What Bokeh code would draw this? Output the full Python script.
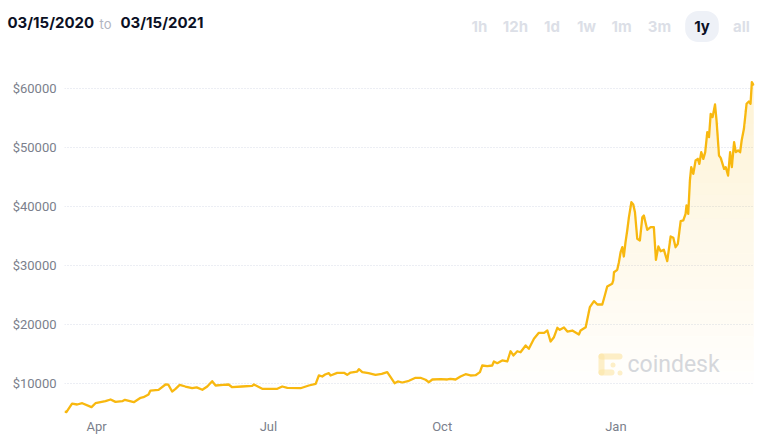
import numpy as np
import pandas as pd
from bokeh.plotting import figure
from bokeh.layouts import column
from bokeh.models import Range1d, FixedTicker, PrintfTickFormatter, Label, BoxAnnotation
from bokeh.embed import file_html
from bokeh.resources import INLINE

# ---------------- data ----------------
start_date = "2020-03-15"
date_from = "03/15/2020"
date_to = "03/15/2021"
# days after start_date
day_offsets = [
    0, 1, 4, 6.7, 9.4, 14.3, 16.4, 21.7, 24.4, 27, 30.6, 32, 36.7, 40.3, 41.8, 44.5, 45.5,
    49.8, 53.5, 55, 57, 58.8, 61, 64, 67.6, 70, 73, 75.6, 78.2, 80, 84, 86.9, 88.8, 94,
    99.4, 100.3, 104.7, 112.7, 115.3, 118, 125, 129.4, 133, 134.7, 136.5, 138, 140, 140.9,
    144.4, 148, 149.7, 151.5, 155, 155.9, 157.7, 161, 164.7, 168, 170.9, 172.7, 174.8,
    176.5, 178.9, 182.4, 185.9, 188.5, 191.2, 193, 194.8, 199.2, 202.7, 204.4, 207.1,
    209.7, 212.4, 215, 217.7, 220, 221.2, 223.9, 226.5, 227.4, 229.2, 231.8, 234.5, 236.2,
    237.7, 239.8, 241.5, 244.2, 245.9, 248.6, 251.2, 254, 255.7, 257.4, 259.2, 261, 262.3,
    264.5, 266.3, 268.9, 272.4, 273.3, 276, 278.2, 280.4, 282.2, 284.8, 286.2, 287.4, 290,
    290.6, 291, 292.7, 293.6, 294.5, 295.4, 296.2, 297.1, 298, 298.9, 300.2, 301.2, 302.1,
    303.3, 304.7, 306, 306.8, 308.6, 310.4, 312.1, 313.2, 314.5, 315.7, 317.4, 319.2, 321,
    322.4, 323.6, 324.8, 326.3, 327.7, 328.9, 329.4, 330.3, 331.2, 331.9, 333, 334.2,
    335.4, 336.2, 337.2, 338.3, 339.3, 340.4, 341.3, 342.2, 343.2, 344.5, 345.3, 346.6,
    347.5, 349.3, 350.2, 351.4, 352.5, 353.4, 354.6, 355.5, 356.7, 357.8, 358.6, 359.8,
    361.2, 362.4, 363.3, 364, 365,
]
prices = [
    5250, 5140, 6600, 6440, 6660, 5990, 6660, 7000, 7290, 6890, 7000, 7240, 6830, 7570, 7680, 8140, 8810,
    8930, 9830, 9800, 8640, 9100, 9780, 9490, 9200, 9350, 8930, 9490, 10390, 9660, 9750, 9830, 9370, 9490,
    9610, 9830, 9100, 9100, 9490, 9270, 9200, 9660, 9950, 11360, 11190, 11530, 11750, 11360,
    11810, 11810, 11470, 11860, 12030, 12420, 11920, 11750, 11470, 11640, 11920, 11070, 10050,
    10340, 10170, 10460, 10970, 10970, 10630, 10220, 10680, 10730, 10680, 10800, 10680,
    11190, 11580, 11360, 11410, 11920, 13050, 12930, 13050, 13730, 13440, 13900, 13730, 15470,
    14750, 15470, 15300, 16440, 15880, 17580, 18590, 18590, 18980, 17120, 17850, 19440, 19100,
    19490, 18810, 18980, 18310, 18980, 19540, 22930, 23950, 23390, 23390, 25000, 26440, 26900,
    27460, 28860, 29270, 30560, 32250, 33100, 31530, 33950, 35930, 38190, 40730, 40340, 39030,
    34530, 34240, 38190, 38470, 36050, 36500, 36500, 30960, 33220, 32420, 32670, 30730, 34920,
    34690, 33100, 33670, 37510, 37630, 38760, 40170, 38760, 44410, 46660, 45540, 47800,
    48080, 47230, 49210, 48080, 49210, 52600, 51750, 55710, 55150, 57290, 54580, 48640,
    48250, 46390, 46660, 45250, 49210, 46660, 50900, 49210, 49490, 49210, 51190, 53170,
    57410, 57800, 57410, 61070, 60510,
]
y_ticks = [10000, 20000, 30000, 40000, 50000, 60000]
x_tick_dates = ["2020-04-01", "2020-07-01", "2020-10-01", "2021-01-01"]
x_tick_labels = ["Apr", "Jul", "Oct", "Jan"]
range_buttons = ["1h", "12h", "1d", "1w", "1m", "3m", "1y", "all"]
active_button = "1y"

# ---------------- header strip ----------------
head = figure(width=764, height=60, output_backend="svg", toolbar_location=None,
              x_range=Range1d(0, 764), y_range=Range1d(60, 0),
              x_axis_location=None, y_axis_location=None, min_border=0)
head.frame_align = False
head.outline_line_color = None
head.grid.visible = False
head.add_layout(Label(x=7, y=22, text=date_from,
                      text_font="Inter", text_font_style="bold", text_font_size="15px",
                      text_color="#0b1024", text_baseline="middle"))
head.add_layout(Label(x=99, y=23, text="to",
                      text_font="Inter", text_font_size="13px",
                      text_color="#b1b5c1", text_baseline="middle"))
head.add_layout(Label(x=120, y=22, text=date_to,
                      text_font="Inter", text_font_style="bold", text_font_size="15px",
                      text_color="#0b1024", text_baseline="middle"))
btn_x = [479, 515, 551.5, 586, 621, 659, 701.5, 741]
for bx, bl in zip(btn_x, range_buttons):
    active = bl == active_button
    kw = dict(background_fill_color="#eef1f7", padding=(9, 6), border_radius=13) if active else {}
    head.add_layout(Label(x=bx, y=26, text=bl,
                          text_font="Inter", text_font_style="bold", text_font_size="15px",
                          text_color="#0b1024" if active else "#dcdfe7",
                          text_align="center", text_baseline="middle", **kw))

# ---------------- chart ----------------
LINE = "#f8b80f"
t0 = pd.Timestamp(start_date)
x_ticks = [int((pd.Timestamp(d) - t0).days) for d in x_tick_dates]
days = np.array(day_offsets, dtype=float)
pr = np.array(prices, dtype=float)

p = figure(width=764, height=383, output_backend="svg", toolbar_location=None,
           x_range=Range1d(0, 365.4), y_range=Range1d(4068, 64746),
           min_border_left=64, min_border_right=10, min_border_top=0, min_border_bottom=25)
p.frame_align = False
p.outline_line_color = None
p.background_fill_color = "white"
p.border_fill_color = "white"

# gradient-like area fill (vertical bands with growing opacity)
levels = np.arange(8000, 68001, 2000)
for lo, hi in zip(levels[:-1], levels[1:]):
    a = min(0.2, 0.2 * ((lo + hi) / 2 - 8000) / 52000)
    p.varea(x=days, y1=np.full_like(pr, lo), y2=np.clip(pr, lo, hi),
            fill_color="#f9c22e", fill_alpha=a)

p.line(days, pr, line_color=LINE, line_width=2.3, line_join="round")

# axes
p.xaxis.ticker = FixedTicker(ticks=x_ticks)
p.xaxis.major_label_overrides = {t: l for t, l in zip(x_ticks, x_tick_labels)}
p.yaxis.ticker = FixedTicker(ticks=y_ticks)
p.yaxis.formatter = PrintfTickFormatter(format="$%d")
for ax in (p.xaxis[0], p.yaxis[0]):
    ax.axis_line_color = None
    ax.major_tick_line_color = None
    ax.minor_tick_line_color = None
    ax.major_tick_out = 0
    ax.major_tick_in = 0
    ax.major_label_text_font = "Roboto"
    ax.major_label_text_font_size = "13px"
    ax.major_label_text_color = "#7b7f8c"
p.xaxis.major_label_standoff = 0
p.yaxis.major_label_standoff = 8
p.xgrid.grid_line_color = None
p.ygrid.grid_line_color = "#d9dce8"
p.ygrid.grid_line_dash = "1 2"
p.ygrid.grid_line_width = 1

# watermark (screen units are relative to the plot frame, y upward)
for l, r, b, t in [(534, 540, 43, 65), (534, 558, 59, 65), (534, 550, 43, 49),
                   (546, 551, 51, 56), (553, 558, 43, 48)]:
    p.add_layout(BoxAnnotation(left=l, right=r, top=t, bottom=b,
                               left_units="screen", right_units="screen",
                               top_units="screen", bottom_units="screen",
                               fill_color="#fbe6a8", fill_alpha=0.6, line_color=None,
                               border_radius=3, level="underlay"))
p.add_layout(Label(x=563, y=54, x_units="screen", y_units="screen", text="coindesk",
                   text_font="Roboto", text_font_size="23px", text_color="#d5d8df",
                   text_baseline="middle", level="underlay"))

open("out.html", "w").write(file_html(column(head, p, spacing=0), INLINE))
